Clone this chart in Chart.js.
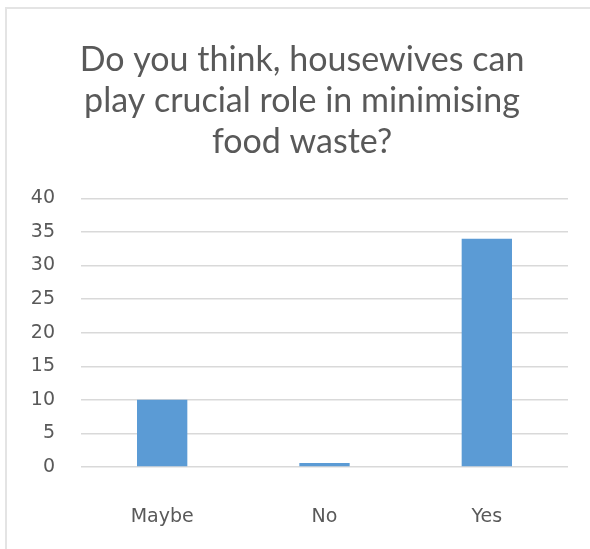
<!DOCTYPE html>
<html>
<head>
<meta charset="utf-8">
<script src="https://cdn.jsdelivr.net/npm/chart.js@4/dist/chart.umd.min.js"></script>
<style>
  html, body { margin: 0; padding: 0; background: #ffffff; overflow: hidden; }
  #frame { position: absolute; left: 5px; top: 7px; width: 620px; height: 580px; border: 2px solid #e4e4e4; box-sizing: border-box; }
  #wrap { position: absolute; left: 0; top: 0; width: 590px; height: 549px; }
</style>
</head>
<body>
<div id="frame"></div>
<div id="wrap"><canvas id="c" width="590" height="549"></canvas></div>
<script>
const titleLines = ["Do you think, housewives can", "play crucial role in minimising", "food waste?"];
const categories = ["Maybe", "No", "Yes"];
const responses = [10, 0.6, 34];
const yMin = 0, yMax = 40, yStep = 5;

new Chart(document.getElementById('c'), {
  type: 'bar',
  data: {
    labels: categories,
    datasets: [{
      data: responses,
      backgroundColor: '#5b9bd5',
      borderWidth: 0,
      barPercentage: 0.31,
      categoryPercentage: 1.0,
      yAxisID: 'y'
    }]
  },
  options: {
    responsive: false,
    animation: false,
    layout: { padding: { left: 0, right: -14, top: 0, bottom: 2 } },
    plugins: {
      legend: { display: false },
      tooltip: { enabled: false },
      title: {
        display: true,
        text: titleLines,
        color: '#595959',
        font: { family: 'Lato', size: 34, weight: 'normal', lineHeight: 1.2 },
        padding: { top: 40, bottom: 36 }
      }
    },
    scales: {
      x: {
        grid: { display: false, drawTicks: false },
        border: { display: false },
        ticks: { color: '#595959', font: { family: 'DejaVu Sans', size: 19 }, padding: 39 },
        afterFit: (s) => { s.height = 80; }
      },
      y: {
        position: 'left',
        min: yMin, max: yMax,
        grid: { color: '#d9d9d9', lineWidth: 1.5, drawTicks: false },
        border: { display: false },
        ticks: { stepSize: yStep, color: '#595959', font: { family: 'DejaVu Sans', size: 19 }, padding: 26 },
        afterFit: (s) => { s.width = 81; }
      },
      yRight: {
        type: 'linear',
        position: 'right',
        min: yMin, max: yMax,
        grid: { display: false, drawTicks: false },
        border: { display: false },
        ticks: { display: false },
        afterFit: (s) => { s.width = 36; }
      }
    }
  }
});
</script>
</body>
</html>
